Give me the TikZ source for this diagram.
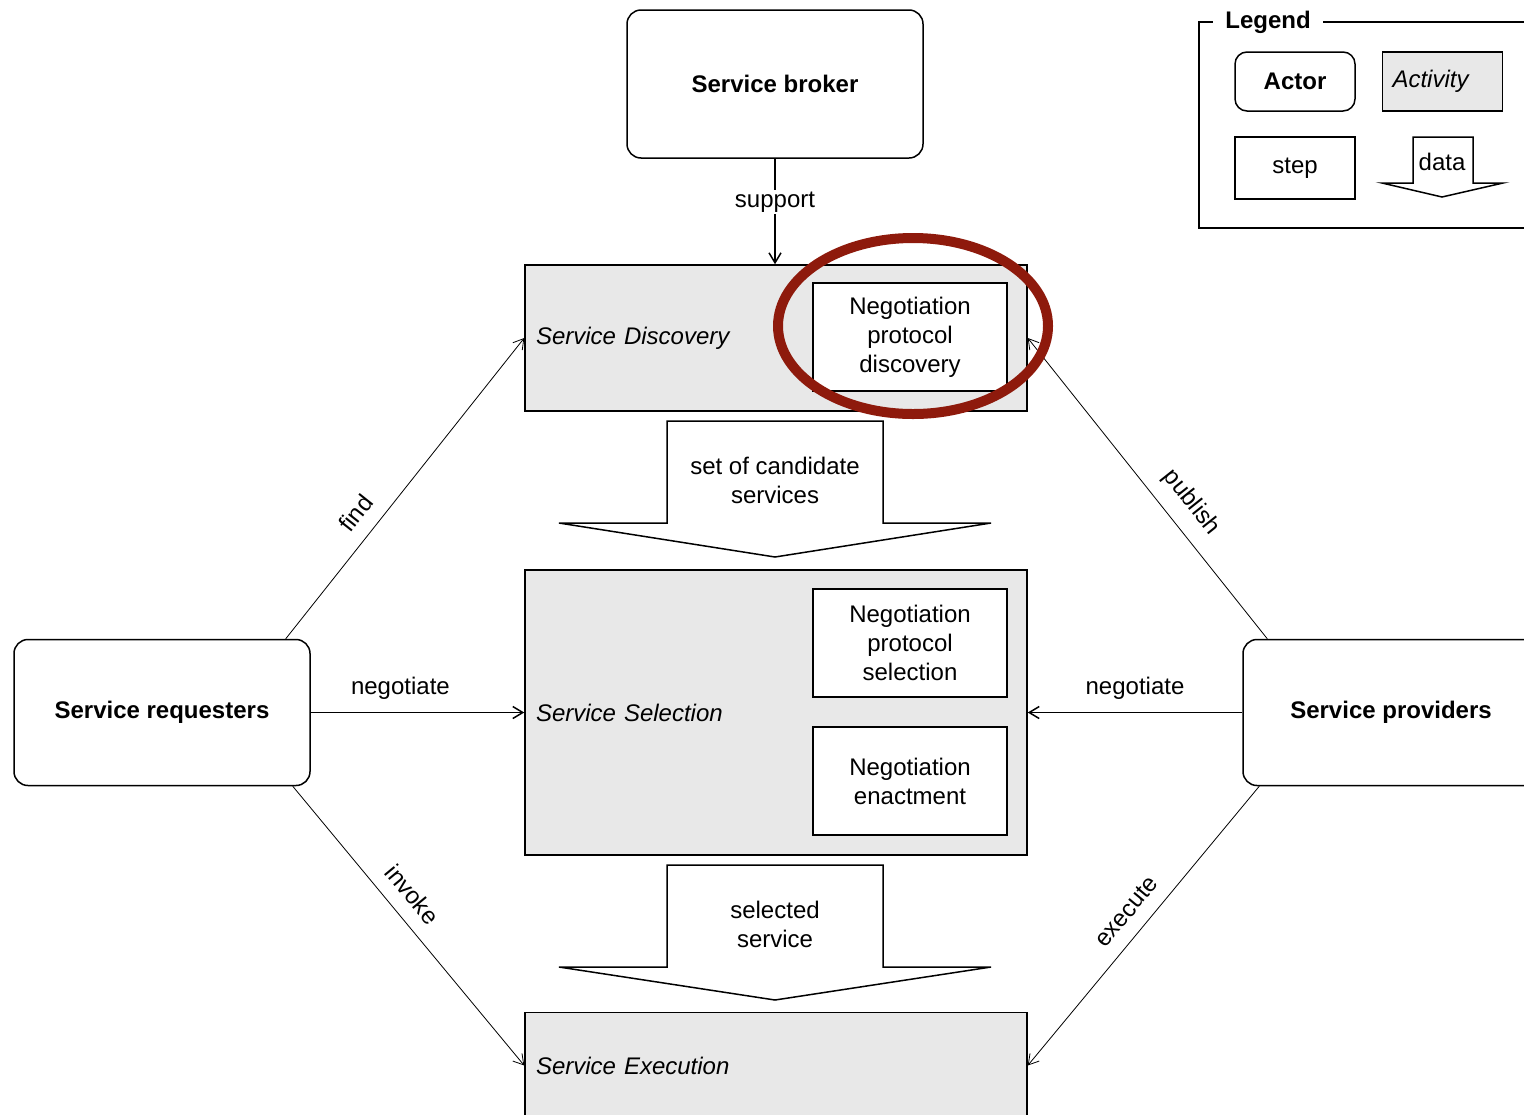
\documentclass[tikz,border=0pt,12pt]{standalone}
\usepackage{fontspec}
\setmainfont{Liberation Sans}
\usepackage{xcolor}
\usetikzlibrary{arrows.meta,calc}
\definecolor{actgray}{HTML}{E8E8E8}
\definecolor{markred}{HTML}{8E1A0C}
\tikzset{every picture/.style={line width=0.75pt}}
\tikzset{
  actor/.style={draw, fill=white, rounded corners=7pt, font=\bfseries, minimum width=148pt, minimum height=73pt},
  activity/.style={draw, fill=actgray, font=\itshape, text width=240pt, inner xsep=5.5pt, align=left},
  stepbox/.style={draw, fill=white, align=center, minimum width=97pt, minimum height=54pt, inner sep=2pt},
  dataarrow/.style={draw, fill=white},
  flow/.style={-{Straight Barb[length=5pt,width=6pt]}},
  thinflow/.style={flow, line width=0.4pt}
}

\begin{document}
\begin{tikzpicture}[x=0.5pt, y=-0.5pt]
\useasboundingbox (0,0) rectangle (1524,1114);
\clip (0,0) rectangle (1524,1114);

% actors
\node[actor, minimum height=74pt] (broker) at (775,84) {Service broker};
\node[actor] (req) at (162,712.5) {Service requesters};
\node[actor] (prov) at (1391,712.5) {Service providers};

% activities and their steps
\node[activity, minimum height=73pt] (disc) at (776,338) {Service Discovery};
\node[activity, minimum height=142.5pt] (sel) at (776,712.5) {Service Selection};
\node[activity, minimum height=53pt] (exec) at (776,1065.5) {Service Execution};
\node[stepbox] (npd) at (910,337) {Negotiation\\protocol\\discovery};
\node[stepbox] (nps) at (910,643) {Negotiation\\protocol\\selection};
\node[stepbox] (ne) at (910,781) {Negotiation\\enactment};

% data between activities
\draw[dataarrow] (667,523) -- (667,421) -- (883,421) -- (883,523) -- (991,523) -- (775,557) -- (559,523) -- cycle;
\node[align=center] (cand) at (775,480) {set of candidate\\services};
\draw[dataarrow] (667,967) -- (667,865) -- (883,865) -- (883,967) -- (991,967) -- (775,1000) -- (559,967) -- cycle;
\node[align=center] (chosen) at (775,924) {selected\\service};

% interactions
\draw[flow] (broker.south) -- (broker.south |- disc.north) node[pos=0.41, fill=white, inner sep=1pt] (support) {support};
\draw[flow] (req.east) -- (sel.west) node[pos=0.42, above=2pt] {negotiate};
\draw[flow] (prov.west) -- (sel.east) node[midway, above=2pt] {negotiate};
\draw[thinflow] ($(req.north east)+(-25,0)$) -- (disc.west) node[pos=0.37, sloped, above=3pt] {find};
\draw[thinflow] ($(req.south east)+(-18,0)$) -- (exec.west) node[pos=0.44, sloped, above=3pt] {invoke};
\draw[thinflow] ($(prov.north west)+(25,0)$) -- (disc.east) node[pos=0.40, sloped, above=3pt] {publish};
\draw[thinflow] ($(prov.south west)+(17,0)$) -- (exec.east) node[pos=0.50, sloped, above=3pt] {execute};

% legend
\draw (1540,228) -- (1199,228) -- (1199,22) -- (1540,22);
\node[fill=white, font=\bfseries, inner xsep=6pt] (legend) at (1268,22) {Legend};
\node[actor, minimum width=60pt, minimum height=29.5pt, rounded corners=6pt] (lactor) at (1295,81.5) {Actor};
\node[activity, text width=50pt, inner xsep=5pt, minimum height=29.5pt] (lactivity) at (1442.5,81.5) {Activity};
\node[stepbox, minimum width=60pt, minimum height=31pt] (lstep) at (1295,168) {step};
\draw[dataarrow] (1413,183) -- (1413,137) -- (1473,137) -- (1473,183) -- (1503,183) -- (1442,197) -- (1382,183) -- cycle;
\node (ldata) at (1442,162) {data};

% highlight
\draw[markred, line width=5pt] (913,326) ellipse [x radius=67.5pt, y radius=44pt];
\end{tikzpicture}
\end{document}
